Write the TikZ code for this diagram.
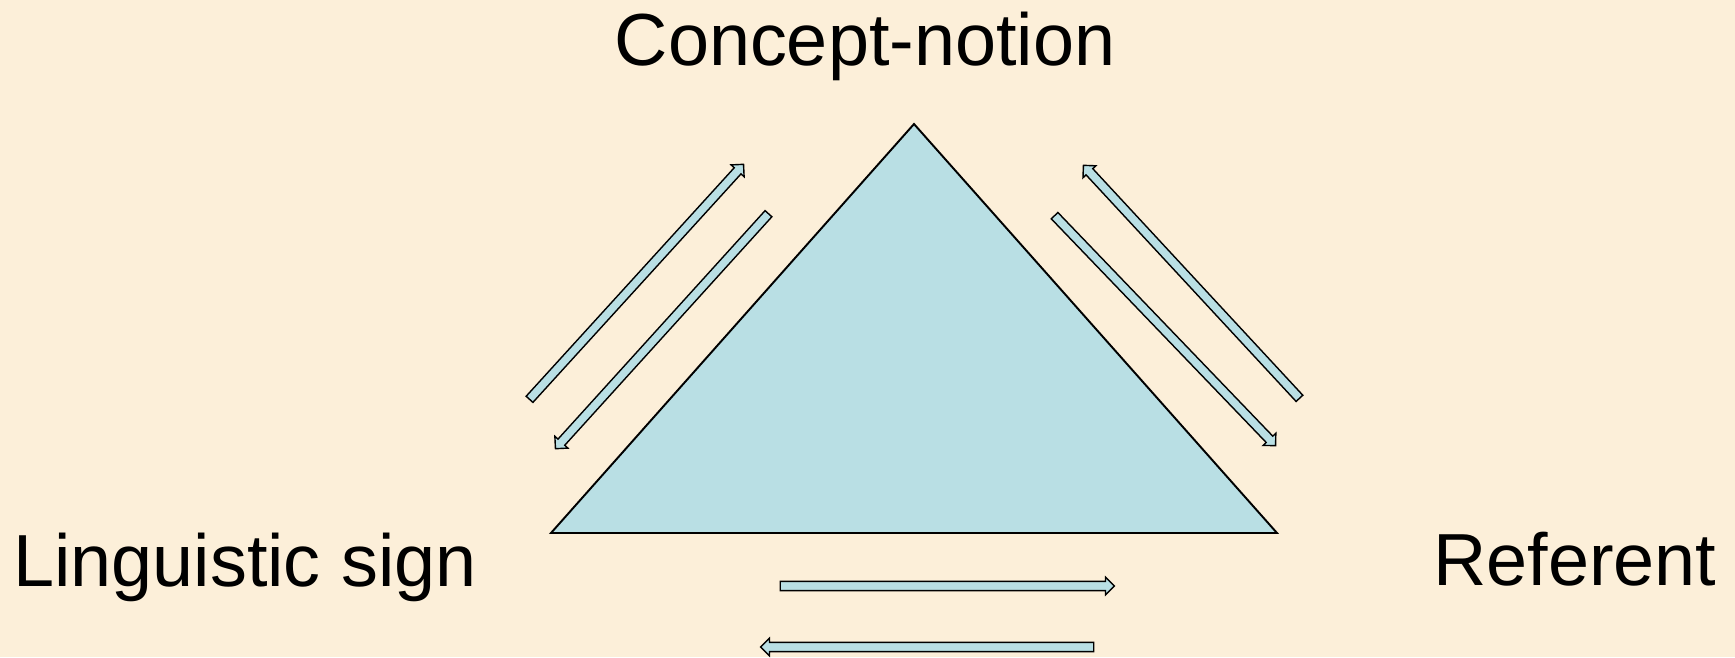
\documentclass[tikz,border=0pt]{standalone}
\usepackage{fontspec}
\setmainfont{Liberation Sans}
\usetikzlibrary{shapes.arrows,calc}

\definecolor{paper}{RGB}{252,239,217}
\definecolor{tealfill}{RGB}{185,223,228}

\tikzset{
    fatarrow/.style={single arrow, draw=black, fill=tealfill, line width=0.8pt,
        inner xsep=0pt, inner ysep=2.2pt, minimum width=9.4pt,
        single arrow head extend=2.4pt, single arrow tip angle=90,
        single arrow head indent=0pt},
    bigword/.style={inner sep=0pt, font=\fontsize{42}{50}\selectfont}
}

% block arrow from tail #2 to tip #3, named #1
\newcommand{\flowarrow}[3]{%
    \path let \p1=($(#3)-(#2)$), \n1={atan2(\y1,\x1)}, \n2={veclen(\x1,\y1)} in
        node[fatarrow, rotate=\n1, minimum height=\n2] (#1) at ($(#2)!0.5!(#3)$) {};}

\begin{document}
\begin{tikzpicture}[x=0.02cm, y=-0.02cm]
    \fill[paper] (0,0) rectangle (1735,657);

    % the triangle
    \coordinate (apex) at (914,124);
    \coordinate (lft) at (551,533);
    \coordinate (rgt) at (1277,533);
    \draw[line width=1.1pt, fill=tealfill, line join=miter] (apex) -- (rgt) -- (lft) -- cycle;

    \node[bigword, anchor=base] (concept) at (865,65) {Concept-notion};
    \node[bigword, anchor=base] (sign) at (245,586) {Linguistic sign};
    \node[bigword, anchor=base] (referent) at (1575,585) {Referent};

    % left side
    \coordinate (t1) at (528,401);   \coordinate (h1) at (742,166);
    \coordinate (t2) at (770,212);   \coordinate (h2) at (557,447);
    \flowarrow{signup}{t1}{h1}
    \flowarrow{signdown}{t2}{h2}

    % right side
    \coordinate (t3) at (1301,400);  \coordinate (h3) at (1085,167);
    \coordinate (t4) at (1053,214);  \coordinate (h4) at (1274,444);
    \flowarrow{refup}{t3}{h3}
    \flowarrow{refdown}{t4}{h4}

    % bottom
    \coordinate (t5) at (778,586);   \coordinate (h5) at (1112,586);
    \coordinate (t6) at (1096,647);  \coordinate (h6) at (763,647);
    \flowarrow{toref}{t5}{h5}
    \flowarrow{tosign}{t6}{h6}
\end{tikzpicture}
\end{document}
